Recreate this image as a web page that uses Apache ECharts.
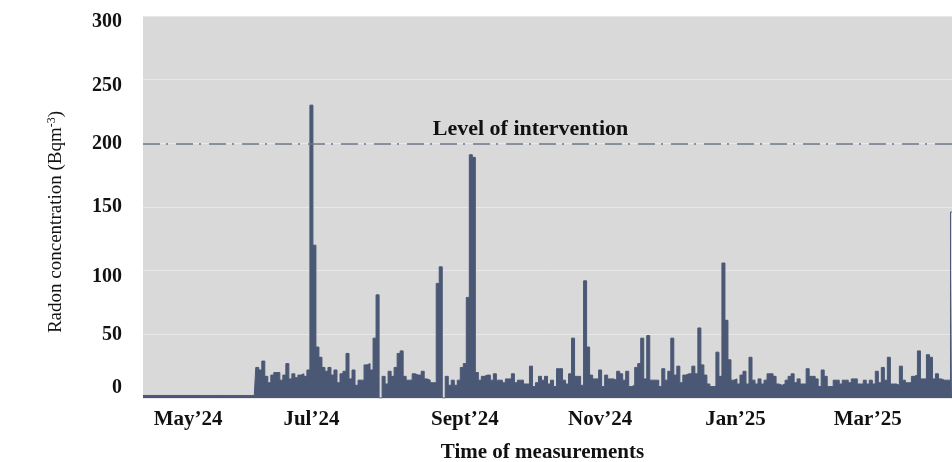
<!DOCTYPE html>
<html>
<head>
    <meta charset="utf-8">
    <script src="https://cdn.jsdelivr.net/npm/echarts@6.0.0/dist/echarts.min.js"></script>
    <style>
        body { margin: 0; background: #fff; }
        #chart { width: 952px; height: 462px; }
    </style>
</head>
<body>
    <div id="chart"></div>
    <script type="text/javascript">
        // radon readings, one sample every ~3 px of the original time axis
        var radon = [
            2, 2, 2, 2, 2, 2, 2, 2, 2, 2, 2, 2, 2, 2, 2, 2, 2, 2, 2, 2,
            2, 2, 2, 2, 2, 2, 2, 2, 2, 2, 2, 2, 2, 2, 2, 2, 2, 2, 24, 22,
            29, 17, 12, 18, 20, 20, 14, 18, 27, 15, 19, 16, 18, 19, 17, 22, 230, 120, 40, 32,
            24, 21, 24, 18, 22, 12, 19, 21, 35, 15, 22, 10, 14, 14, 26, 27, 22, 47, 81, 0,
            17, 11, 21, 17, 24, 35, 37, 17, 14, 14, 19, 18, 18, 21, 15, 14, 12, 12, 90, 103,
            0, 17, 10, 14, 10, 14, 24, 27, 79, 191, 189, 20, 14, 17, 18, 18, 14, 19, 14, 14,
            12, 15, 15, 19, 12, 14, 14, 11, 11, 25, 9, 12, 17, 14, 17, 11, 14, 9, 23, 23,
            14, 11, 19, 47, 17, 17, 10, 92, 40, 18, 15, 15, 22, 9, 18, 15, 15, 14, 21, 19,
            14, 21, 9, 10, 24, 27, 47, 15, 49, 14, 14, 14, 9, 23, 14, 21, 47, 18, 25, 12,
            18, 19, 19, 25, 19, 55, 26, 18, 11, 9, 9, 36, 17, 106, 61, 30, 14, 15, 11, 18,
            21, 11, 32, 14, 11, 15, 11, 14, 19, 19, 17, 11, 10, 11, 14, 17, 19, 12, 15, 11,
            11, 23, 17, 17, 15, 9, 22, 17, 9, 9, 14, 14, 11, 14, 14, 12, 15, 15, 11, 11,
            14, 11, 14, 11, 21, 12, 24, 14, 32, 11, 11, 10, 25, 14, 12, 12, 17, 18, 37, 15,
            15, 34, 32, 15, 19, 15, 14, 14, 14, 146
        ];
        var samples = radon.map(function (v, i) { return String(i); });

        var tickIndex = [15, 56, 107, 152, 197, 241];
        var tickLabels = ['May\u201924', 'Jul\u201924', 'Sept\u201924', 'Nov\u201924', 'Jan\u201925', 'Mar\u201925'];
        var yTicks = [0, 50, 100, 150, 200, 250, 300];
        var intervention = 200;

        var serif = 'Liberation Serif';
        var ink = '#111';

        // the original y labels sit a little off their gridlines
        function yLabel(v) {
            if (v === 0) return '{up|' + v + '}';
            if (v === 250 || v === 300 || v === 100) return '{dn|' + v + '}';
            return '{n|' + v + '}';
        }
        var yLabelFont = { color: ink, fontFamily: serif, fontWeight: 'bold', fontSize: 20 };

        option = {
            animation: false,
            grid: {
                left: 143,
                right: 0,
                top: 16,
                bottom: 64,
                outerBoundsMode: 'none',
                show: true,
                backgroundColor: '#d9d9d9',
                borderWidth: 0
            },
            xAxis: {
                type: 'category',
                boundaryGap: false,
                data: samples,
                axisLine: { show: false },
                axisTick: { show: false },
                axisLabel: {
                    interval: function (idx) { return tickIndex.indexOf(idx) >= 0; },
                    formatter: function (v) {
                        var k = tickIndex.indexOf(Number(v));
                        return k >= 0 ? tickLabels[k] : '';
                    },
                    margin: 11,
                    color: ink,
                    fontFamily: serif,
                    fontWeight: 'bold',
                    fontSize: 21
                },
                name: 'Time of measurements',
                nameLocation: 'middle',
                nameGap: 44,
                nameTextStyle: {
                    color: ink,
                    fontFamily: serif,
                    fontWeight: 'bold',
                    fontSize: 21,
                    padding: [0, 10, 0, 0]
                }
            },
            yAxis: {
                type: 'value',
                min: yTicks[0],
                max: yTicks[yTicks.length - 1],
                interval: 50,
                axisLine: { show: false },
                axisTick: { show: false },
                splitLine: { lineStyle: { color: '#e8e8e8', width: 1 } },
                axisLabel: {
                    margin: 21,
                    formatter: yLabel,
                    rich: {
                        n: yLabelFont,
                        up: Object.assign({ padding: [0, 0, 20, 0] }, yLabelFont),
                        dn: Object.assign({ padding: [12, 0, 0, 0] }, yLabelFont)
                    }
                },
                name: '{a|Radon concentration (Bqm}{s|-3}{a|)}',
                nameLocation: 'middle',
                nameRotate: 90,
                nameGap: 76,
                nameTextStyle: {
                    padding: [0, 30, 0, 0],
                    rich: {
                        a: { color: ink, fontFamily: serif, fontSize: 19 },
                        s: { color: ink, fontFamily: serif, fontSize: 12, verticalAlign: 'top', padding: [0, 0, 9, 0] }
                    }
                }
            },
            series: [
                {
                    type: 'line',
                    data: radon,
                    step: 'middle',
                    symbol: 'none',
                    lineStyle: { color: '#4a5875', width: 1 },
                    areaStyle: { color: '#4a5875', opacity: 1 },
                    markLine: {
                        silent: true,
                        symbol: 'none',
                        lineStyle: { color: '#6b7586', width: 1.5, type: [17, 6, 2, 8] },
                        label: {
                            formatter: 'Level of intervention',
                            position: 'insideMiddleTop',
                            distance: 3,
                            padding: [0, 34, 0, 0],
                            color: ink,
                            fontFamily: serif,
                            fontWeight: 'bold',
                            fontSize: 22
                        },
                        data: [{ yAxis: intervention }]
                    }
                }
            ]
        };
        var myChart = echarts.init(document.getElementById('chart'));
        myChart.setOption(option);
    </script>
</body>
</html>
